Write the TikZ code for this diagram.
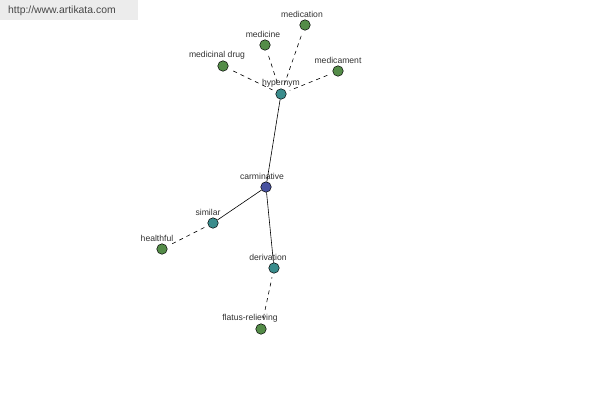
\documentclass[tikz,border=0pt]{standalone}
\usepackage{fontspec}
\setmainfont{Liberation Sans}
\definecolor{leaf}{RGB}{84,140,72}
\definecolor{mid}{RGB}{58,140,140}
\definecolor{core}{RGB}{72,82,160}
\definecolor{wm}{RGB}{236,236,236}
\definecolor{wmtext}{RGB}{70,70,70}
\definecolor{lbl}{RGB}{50,50,50}
\tikzset{
  dot/.style={circle,draw=black,line width=0.5pt,minimum size=10.5pt,inner sep=0pt},
  leafdot/.style={dot,fill=leaf},
  middot/.style={dot,fill=mid},
  coredot/.style={dot,fill=core},
  lab/.style={font=\fontsize{8.6}{9}\selectfont,text=lbl,inner sep=0pt},
  solidedge/.style={draw=black,line width=0.6pt},
  dashedge/.style={draw=black,line width=0.6pt,dash pattern=on 4pt off 4pt,shorten <=6pt,shorten >=4pt}
}
\begin{document}
\begin{tikzpicture}[x=1pt,y=-1pt]
\useasboundingbox[fill=white] (0,0) rectangle (600,400);
\fill[wm] (0,0) rectangle (138,20);
\node[font=\fontsize{10.4}{11}\selectfont,text=wmtext,anchor=west,inner sep=0pt] (wmark) at (8,11) {http://www.artikata.com};

\node[middot] (hyp) at (281,94) {};
\node[leafdot] (mcn) at (305,25) {};
\node[leafdot] (med) at (265,45) {};
\node[leafdot] (mdd) at (223,66) {};
\node[leafdot] (mct) at (338,71) {};
\node[coredot] (car) at (266,187) {};
\node[middot] (sim) at (213,223) {};
\node[leafdot] (hea) at (162,249) {};
\node[middot] (der) at (274,268) {};
\node[leafdot] (fla) at (261,329) {};

\draw[solidedge] (hyp) -- (car);
\draw[solidedge] (car) -- (sim);
\draw[solidedge] (car) -- (der);
\draw[dashedge] (mcn) -- (hyp);
\draw[dashedge] (med) -- (hyp);
\draw[dashedge] (mdd) -- (hyp);
\draw[dashedge] (mct) -- (hyp);
\draw[dashedge] (hea) -- (sim);
\draw[dashedge] (fla) -- (der);

\node[lab] (lhyp) at (281,83) {hypernym};
\node[lab] (lmcn) at (302,14) {medication};
\node[lab] (lmed) at (263,34) {medicine};
\node[lab] (lmdd) at (217,55) {medicinal drug};
\node[lab] (lmct) at (338,60) {medicament};
\node[lab] (lcar) at (262,176) {carminative};
\node[lab] (lsim) at (208,212) {similar};
\node[lab] (lhea) at (157,238) {healthful};
\node[lab] (lder) at (268,257) {derivation};
\node[lab] (lfla) at (250,318) {flatus-relieving};
\end{tikzpicture}
\end{document}
